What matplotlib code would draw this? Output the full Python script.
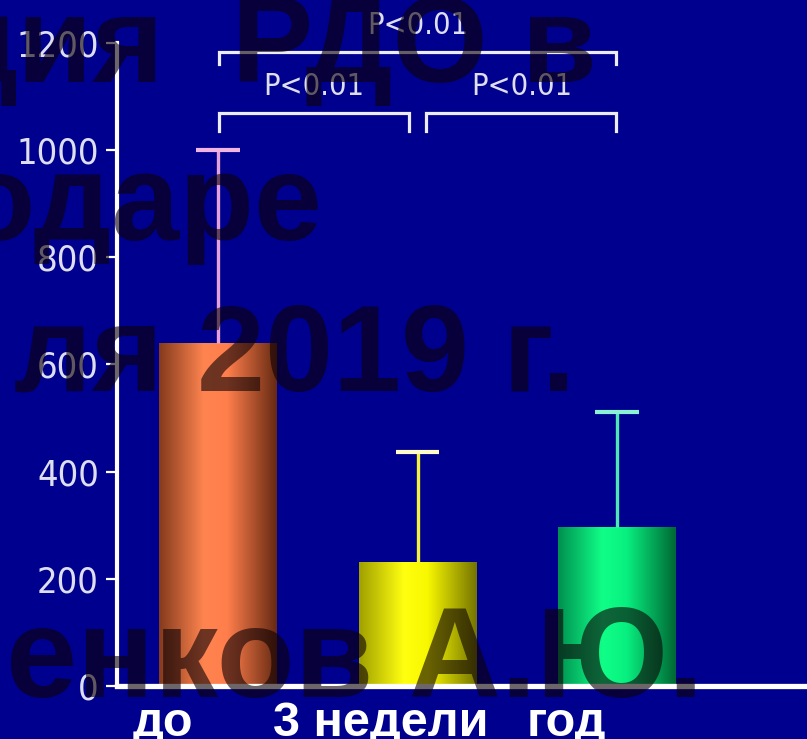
import numpy as np
import matplotlib
matplotlib.use("Agg")
import matplotlib.pyplot as plt
from matplotlib.colors import LinearSegmentedColormap
from matplotlib import font_manager as fm

# --- data -------------------------------------------------------------
groups = ["до", "3 недели", "год"]
means = [640, 232, 297]
sd_upper = [360, 205, 215]
y_ticks = [0, 200, 400, 600, 800, 1000, 1200]
comparisons = [(0, 2), (0, 1), (1, 2)]
p_labels = ["P<0.01", "P<0.01", "P<0.01"]
overlay_lines = ["ция  РДО в", "снодаре", "ля 2019 г.", "енков А.Ю."]

# --- styling ----------------------------------------------------------
W, H = 807, 739
BG = "#00008e"
bar_shades = [
    ("#843a1c", "#ff8450", "#ff7e4c", "#662a12"),
    ("#a0a000", "#ffff10", "#f8f800", "#747400"),
    ("#009050", "#10ff88", "#08f080", "#006834"),
]
err_line_colors = ["#e6a2d8", "#f4f03c", "#4ee8b4"]
err_cap_colors = ["#f0b4e2", "#fffcc8", "#8cf0d4"]
bold_font = ["Liberation Sans", "DejaVu Sans"]

# a narrow, light face for the numeric labels
thin_props = fm.FontProperties(family="DejaVu Sans", stretch="condensed",
                               weight="light")


def fig_xy(px, py):
    """Convert pixel position (from top-left) to figure fraction."""
    return px / W, 1 - py / H


fig = plt.figure(figsize=(W / 100, H / 100), dpi=100, facecolor=BG)
ax = fig.add_axes([117 / W, 53 / H, 690 / W, 643.2 / H])
ax.set_facecolor(BG)

x = np.arange(len(groups))
bars = ax.bar(x, means, width=0.59, color="none", edgecolor="none", zorder=2)

# cylinder-style shading inside each bar
grad = np.linspace(0, 1, 256)[None, :]
for rect, (c0, c1, c2, c3) in zip(bars, bar_shades):
    cmap = LinearSegmentedColormap.from_list(
        "shade", [(0, c0), (0.38, c1), (0.58, c2), (1, c3)])
    im = ax.imshow(grad, cmap=cmap, aspect="auto", interpolation="bicubic",
                   extent=[rect.get_x(), rect.get_x() + rect.get_width(),
                           0, rect.get_height()], zorder=2)
    im.set_clip_path(rect)

# upper error bars
for xi, m, s, lc, cc in zip(x, means, sd_upper, err_line_colors, err_cap_colors):
    ax.vlines(xi, m, m + s, color=lc, lw=2.4, zorder=3)
    ax.hlines(m + s, xi - 0.11, xi + 0.11, color=cc, lw=3.0, zorder=3)

ax.set_xlim(-0.506, 2.952)
ax.set_ylim(0, 1200)

# axes lines
for side in ("top", "right"):
    ax.spines[side].set_visible(False)
ax.spines["left"].set_color("white")
ax.spines["left"].set_linewidth(3.0)
ax.spines["left"].set_bounds(0, 1200)
ax.spines["bottom"].set_color("white")
ax.spines["bottom"].set_linewidth(3.8)
ax.spines["bottom"].set_zorder(4)

ax.set_xticks([])
ax.set_yticks(y_ticks)
ax.set_yticklabels([str(t) for t in y_ticks])
ax.tick_params(axis="y", colors="white", length=8, width=1.6, pad=5,
               labelcolor="#dedeee")
for lab in ax.get_yticklabels():
    lab.set_fontproperties(thin_props)
    lab.set_fontsize(26)

# significance brackets
gap = 0.045
for (i, j), lab in zip(comparisons, p_labels):
    wide = (j - i) > 1
    top = 1183 if wide else 1069
    tip = 1161 if wide else 1036
    left = i + (gap if i == 1 else 0.005)
    right = j - (gap if j == 1 else 0.005)
    ax.plot([left, left, right, right], [tip, top, top, tip],
            color="#ececf4", lw=2.3, clip_on=False, zorder=3,
            solid_joinstyle="miter")
    t = ax.text((left + right) / 2, top + 50, lab, ha="center", va="center",
                color="#dedeee", clip_on=False, fontproperties=thin_props)
    t.set_fontsize(22)

# group labels under the axis
label_left_px = [133, 273, 527]
for lab, px in zip(groups, label_left_px):
    fx, fy = fig_xy(px, 736)
    fig.text(fx, fy, lab, ha="left", va="baseline", color="white",
             fontsize=35, fontweight="bold", family=bold_font)

# large translucent caption lines across the slide
overlay_specs = [  # (anchor x px, baseline px, alignment, size)
    (597, 82, "right", 88),
    (322, 240, "right", 88),
    (575, 390, "right", 88),
    (6, 697, "left", 92),
]
for txt, (px, py, ha, size) in zip(overlay_lines, overlay_specs):
    fx, fy = fig_xy(px, py)
    fig.text(fx, fy, txt, ha=ha, va="baseline", fontsize=size,
             fontweight="bold", family=bold_font, color="#0c0004",
             alpha=0.6, zorder=10)

fig.savefig("out.png", dpi=100, facecolor=BG)
